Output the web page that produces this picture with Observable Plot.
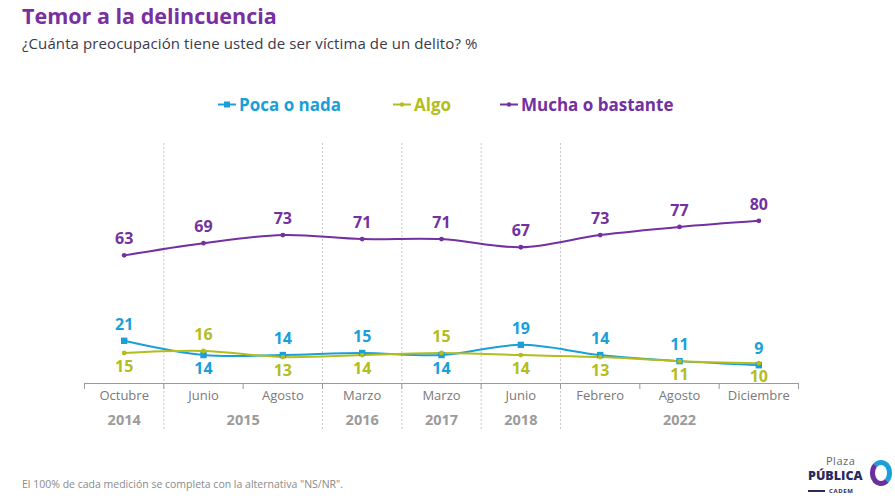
<!DOCTYPE html>
<html><head><meta charset="utf-8">
<script src="https://cdn.jsdelivr.net/npm/d3@7"></script>
<script src="https://cdn.jsdelivr.net/npm/@observablehq/plot@0.6"></script>
<style>
body{margin:0;background:#fff;font-family:"Open Sans",sans-serif;width:895px;height:498px;position:relative;overflow:hidden}
#title{position:absolute;left:22px;top:1px;font-size:21.5px;font-weight:700;color:#7a2f9f}
#sub{position:absolute;left:22px;top:33px;font-size:15px;color:#3a3a4a;letter-spacing:0.1px}
#legend{position:absolute;left:0;top:93px;width:895px;height:24px}
.li{position:absolute;top:0;font-size:17px;font-weight:700;display:flex;align-items:center}
.li svg{margin-right:3px}
#chart{position:absolute;left:0;top:125px}
#note{position:absolute;left:22px;top:477px;font-size:10.5px;color:#8a8a8a}
#logo{position:absolute;left:808px;top:455px;width:86px;height:43px}
#logo div{position:absolute;line-height:1;white-space:nowrap}
</style></head><body>
<div id="title">Temor a la delincuencia</div>
<div id="sub">¿Cuánta preocupación tiene usted de ser víctima de un delito? %</div>
<div id="legend"></div>
<div id="chart"></div>
<div id="note">El 100% de cada medición se completa con la alternativa "NS/NR".</div>
<div id="logo">
 <div style="left:18px;top:0;font-size:11px;color:#666;letter-spacing:0.5px">Plaza</div>
 <div style="left:0;top:15px;font-size:12.5px;font-weight:800;color:#2b2a5e">PÚBLICA</div>
 <div style="left:0;top:35px;width:17px;height:2px;background:#2b2a5e"></div>
 <div style="left:21px;top:33px;font-size:6px;font-weight:700;color:#2b2a5e;letter-spacing:0.6px">CADEM</div>
 <div style="left:62px;top:5px;width:22px;height:26px;border-radius:50%;border:5px solid #1a9fd9;border-left-color:#6a2f9f;border-bottom-color:#6a2f9f;box-sizing:border-box"></div>
</div>
<script>
const months = ["Octubre","Junio","Agosto","Marzo","Marzo","Junio","Febrero","Agosto","Diciembre"];
const years = ["2014","2015","2016","2017","2018","2022"];
const yearPos = [0, 1.5, 3, 4, 5, 7];
const yearBreaks = [0.5, 2.5, 3.5, 4.5, 5.5];
const poca = [21,14,14,15,14,19,14,11,9];
const algo = [15,16,13,14,15,14,13,11,10];
const mucha = [63,69,73,71,71,67,73,77,80];
const pocaPos = ["top","bottom","top","top","bottom","top","top","top","top"];
const algoPos = ["bottom","top","bottom","bottom","top","bottom","bottom","bottom","bottom"];
const seriesNames = ["Poca o nada","Algo","Mucha o bastante"];
const colors = ["#1a9fd9","#b3bd1d","#7330a0"];

const rows = [];
[poca, algo, mucha].forEach((arr, s) => arr.forEach((v, i) => rows.push({
  i, v, s: seriesNames[s],
  pos: s === 0 ? pocaPos[i] : s === 1 ? algoPos[i] : "top"
})));
const colorOf = d => colors[seriesNames.indexOf(d.s)];

// legend
const legendX = [218, 393, 500];
const leg = document.getElementById("legend");
seriesNames.forEach((n, k) => {
  const el = document.createElement("div");
  el.className = "li";
  el.style.left = legendX[k] + "px";
  el.style.color = colors[k];
  const mk = k === 0 ? `<rect x="6" y="2.5" width="6" height="6" fill="${colors[k]}"/>` : `<circle cx="9" cy="5.5" r="2.2" fill="${colors[k]}"/>`;
  el.innerHTML = `<svg width="18" height="11"><line x1="0" y1="5.5" x2="18" y2="5.5" stroke="${colors[k]}" stroke-width="2"/>${mk}</svg>${n}`;
  leg.appendChild(el);
});

const bounds = d3.range(-0.5, 9, 1);
const chart = Plot.plot({
  width: 895, height: 308,
  marginLeft: 84, marginRight: 97, marginTop: 18, marginBottom: 50,
  x: {type: "linear", domain: [-0.5, 8.5], axis: null},
  y: {type: "linear", domain: [0, 118], axis: null},
  style: {fontFamily: "Open Sans, sans-serif"},
  marks: [
    Plot.ruleX(yearBreaks, {stroke: "#c8c8c8", strokeDasharray: "2,2", insetBottom: -47}),
    Plot.ruleY([0], {stroke: "#9a9a9a", strokeWidth: 1.2}),
    Plot.ruleX(bounds, {y1: 0, y2: 0, insetBottom: -6, stroke: "#9a9a9a"}),
    Plot.text(months, {x: (d, i) => i, frameAnchor: "bottom", dy: 16, fill: "#7a7a7a", fontSize: 13}),
    Plot.text(years, {x: (d, i) => yearPos[i], frameAnchor: "bottom", dy: 41, fill: "#9b9b9b", fontSize: 14.5, fontWeight: 700}),
    Plot.line(rows, {x: "i", y: "v", z: "s", stroke: colorOf, strokeWidth: 2, curve: "catmull-rom"}),
    Plot.dot(rows.filter(d => d.s === "Poca o nada"), {x: "i", y: "v", symbol: "square", r: 3.6, fill: colors[0]}),
    Plot.dot(rows.filter(d => d.s !== "Poca o nada"), {x: "i", y: "v", r: 2.4, fill: colorOf}),
    Plot.text(rows.filter(d => d.pos === "top"), {x: "i", y: "v", text: "v", dy: -16, fill: colorOf, fontSize: 16, fontWeight: 700}),
    Plot.text(rows.filter(d => d.pos === "bottom"), {x: "i", y: "v", text: "v", dy: 14, fill: colorOf, fontSize: 16, fontWeight: 700})
  ]
});
document.getElementById("chart").appendChild(chart);
</script>
</body></html>
